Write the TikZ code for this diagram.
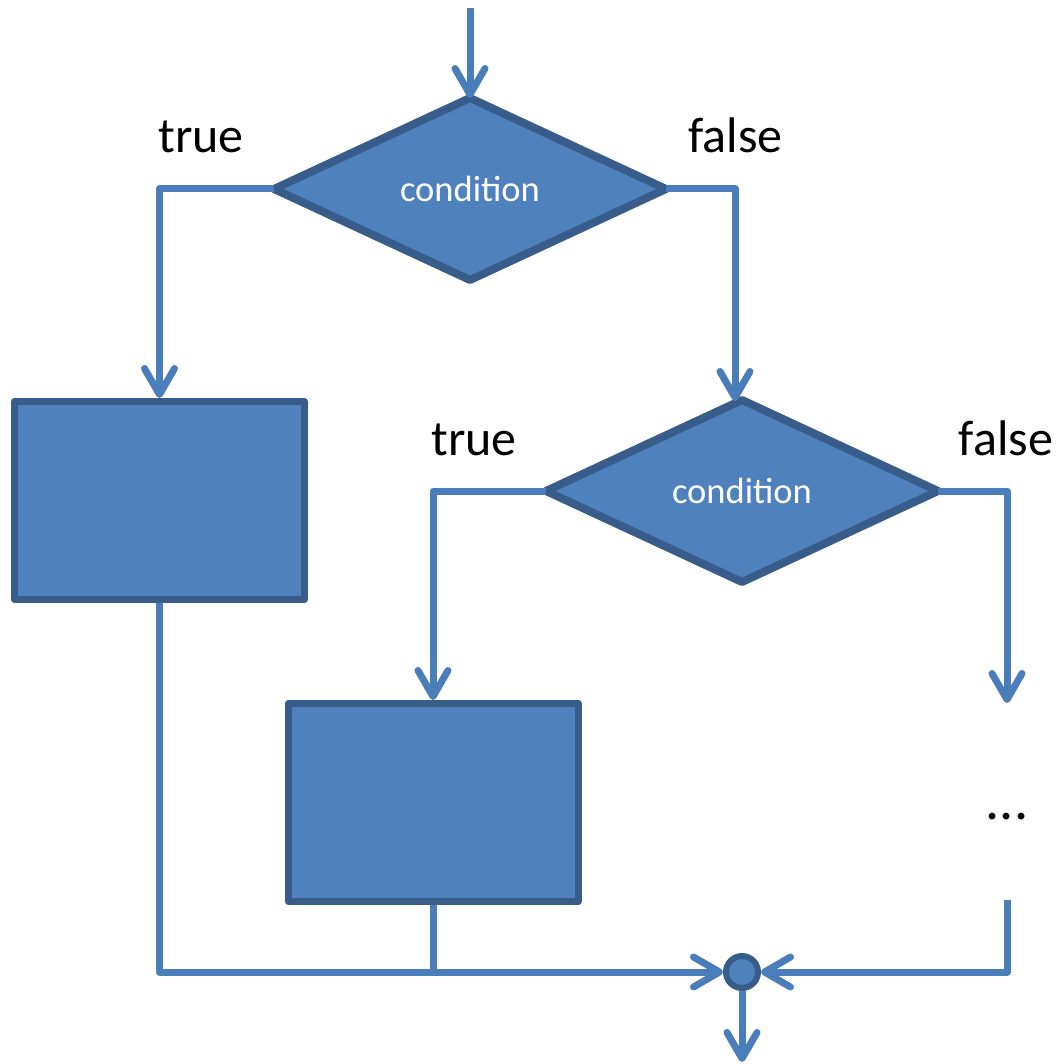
\documentclass[tikz,border=0pt]{standalone}
\usepackage{fontspec}
\setmainfont{Carlito}
\usetikzlibrary{shapes.geometric,arrows.meta}
\definecolor{boxfill}{HTML}{4F81BD}
\definecolor{boxedge}{HTML}{385D8A}
\definecolor{linecol}{HTML}{4A7EBB}
\begin{document}
\begin{tikzpicture}[x=1pt,y=-1pt,
  cond/.style={diamond,draw=boxedge,fill=boxfill,line width=8pt,line join=round,
    inner sep=0pt,outer sep=0pt,minimum width=392pt,minimum height=182pt,text=white,
    font=\fontsize{36.5}{40}\selectfont},
  procbox/.style={rectangle,draw=boxedge,fill=boxfill,line width=7pt,line join=round,
    inner sep=0pt,minimum width=290pt,minimum height=198pt},
  joint/.style={circle,draw=boxedge,fill=boxfill,line width=6pt,inner sep=0pt,minimum size=32pt},
  conn/.style={draw=linecol,line width=7pt,line join=round},
  arr/.style={conn,-{Straight Barb[length=26pt,width=30pt,round]}},
  lbl/.style={anchor=base,font=\fontsize{50}{56}\selectfont,inner sep=0pt}]
\useasboundingbox (0,0) rectangle (1062,1064);
\node[cond] (d1) at (470,189) {condition};
\node[cond] (d2) at (742,491) {condition};
\node[procbox] (b1) at (159.5,500.5) {};
\node[procbox] (b2) at (433,802.5) {};
\node[joint] (c) at (742,972) {};
\coordinate (start) at (470,8);
\coordinate (d2in) at (735,401);
\coordinate (farr) at (1007,703);
\coordinate (fret) at (1007,900);
\coordinate (out) at (742,1062);
\node[lbl] (t1) at (201,153) {true};
\node[lbl] (f1) at (735.5,153) {false};
\node[lbl] (t2) at (474,455) {true};
\node[lbl] (f2) at (1006,455) {false};
\node[lbl,font=\fontsize{56}{60}\selectfont] (dots) at (1007,819) {...};
\draw[arr] (start) -- (d1.north);
\draw[arr] (d1.west) -| (b1.north);
\draw[arr] (d1.east) -| (d2in);
\draw[arr] (d2.west) -| (b2.north);
\draw[arr] (d2.east) -| (farr);
\draw[arr] (b1.south) |- (c.west);
\draw[conn] (b2.south) -- (b2.south |- c.west);
\draw[arr] (fret) |- (c.east);
\draw[arr] (c.south) -- (out);
\end{tikzpicture}
\end{document}
